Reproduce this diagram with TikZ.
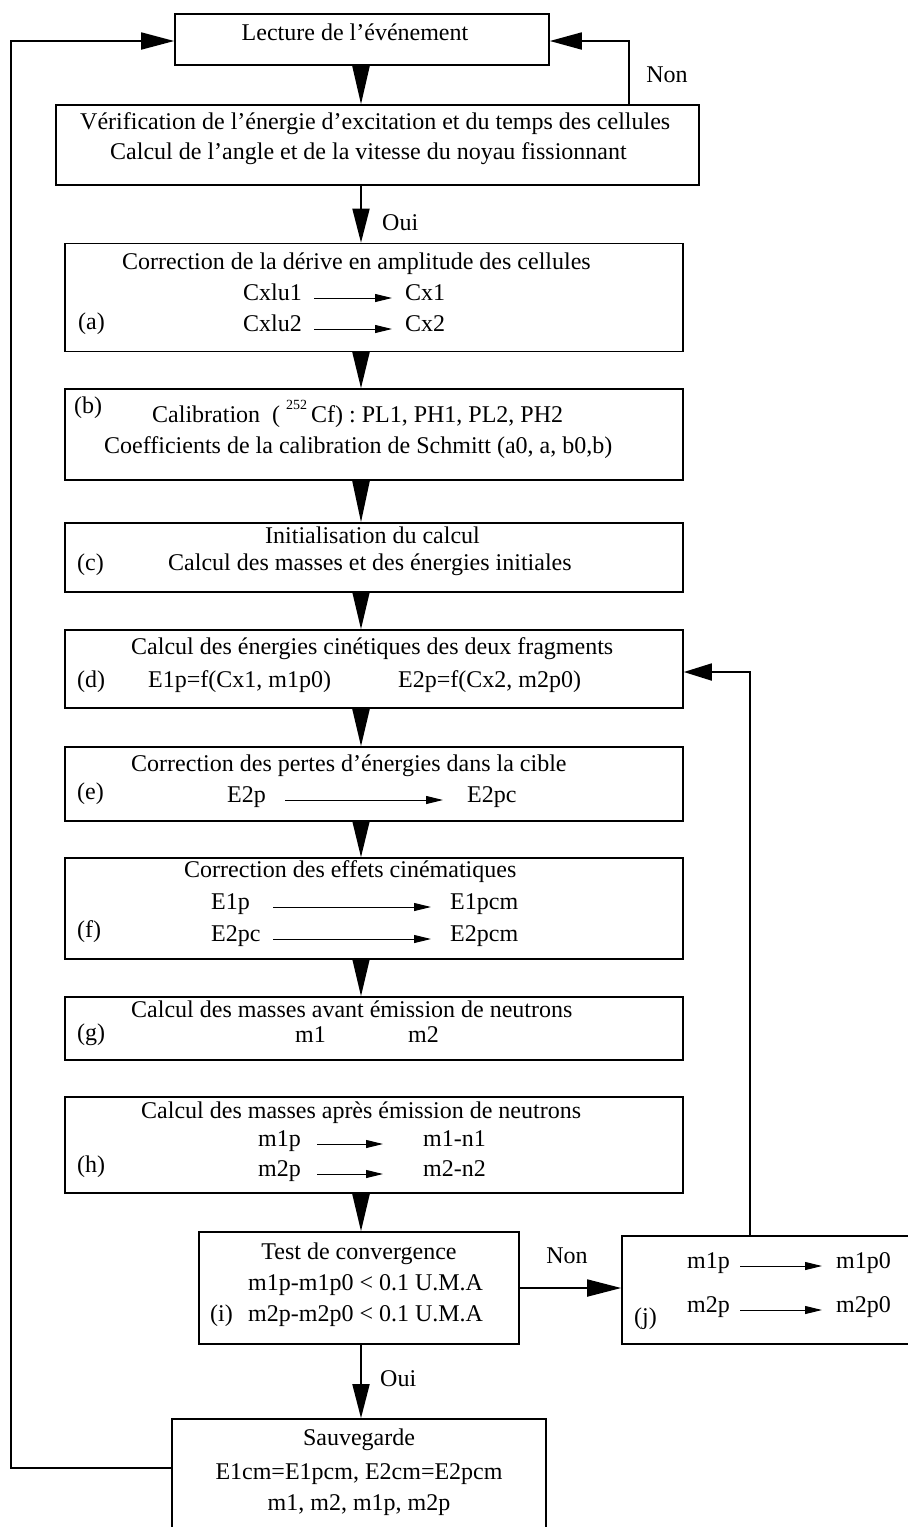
\documentclass[tikz,border=0pt]{standalone}
\usepackage{fontspec}
\setmainfont{Liberation Serif}
\usetikzlibrary{arrows.meta}
\begin{document}
\begin{tikzpicture}[x=1pt,y=-1pt,
  box/.style={draw, line width=1.6pt, rectangle, inner sep=0pt},
  txt/.style={inner sep=0pt, font=\fontsize{24}{30}\selectfont},
  flow/.style={line width=1.8pt, -{Triangle[length=#1,width=17pt]}},
  tiny/.style={line width=0.9pt, -{Triangle[length=17pt,width=8pt]}},
  link/.style={line width=1.8pt}]
\clip (0,0) rectangle (908,1527);
% boxes
\node[box, minimum width=374pt, minimum height=51pt] (lec) at (362,39.5) {};
\node[box, minimum width=643pt, minimum height=80pt] (ver) at (377.5,145) {};
\node[box, minimum width=618pt, minimum height=108pt] (a) at (374,297.5) {};
\node[box, minimum width=618pt, minimum height=91pt] (b) at (374,434.5) {};
\node[box, minimum width=618pt, minimum height=69pt] (c) at (374,557.5) {};
\node[box, minimum width=618pt, minimum height=78pt] (d) at (374,669) {};
\node[box, minimum width=618pt, minimum height=74pt] (e) at (374,784) {};
\node[box, minimum width=618pt, minimum height=101pt] (f) at (374,908.5) {};
\node[box, minimum width=618pt, minimum height=63pt] (g) at (374,1028.5) {};
\node[box, minimum width=618pt, minimum height=96pt] (h) at (374,1145) {};
\node[box, minimum width=320pt, minimum height=112pt] (i) at (359,1288) {};
\node[box, minimum width=300pt, minimum height=108pt] (j) at (772,1290) {};
\node[box, minimum width=374pt, minimum height=130pt] (sv) at (359,1484) {};
% texts
\node[txt, anchor=mid] (tlec) at (355,38) {Lecture de l’événement};
\node[txt, anchor=mid west] (tver1) at (80,127) {Vérification de l’énergie d’excitation et du temps des cellules};
\node[txt, anchor=mid west] (tver2) at (110,157) {Calcul de l’angle et de la vitesse du noyau fissionnant};
\node[txt, anchor=mid] (tnon1) at (667,80) {Non};
\node[txt, anchor=mid west] (toui1) at (382,228) {Oui};
% a
\node[txt, anchor=mid west] (ta1) at (122,267) {Correction de la dérive en amplitude des cellules};
\node[txt, anchor=mid west] (ta2) at (243,298) {Cxlu1};
\node[txt, anchor=mid west] (ta3) at (405,298) {Cx1};
\node[txt, anchor=mid west] (ta4) at (243,329) {Cxlu2};
\node[txt, anchor=mid west] (ta5) at (405,329) {Cx2};
\node[txt, anchor=mid west] (la) at (78,327) {(a)};
% b
\node[txt, anchor=mid west] (lb) at (74,411) {(b)};
\node[txt, anchor=mid west] (tb1) at (152,420) {Calibration~~(~\raisebox{0.55em}{\fontsize{14}{14}\selectfont 252}\,Cf)~:~PL1, PH1, PL2, PH2};
\node[txt, anchor=mid west] (tb2) at (104,451) {Coefficients de la calibration de Schmitt (a0, a, b0,b)};
% c
\node[txt, anchor=mid west] (tc1) at (265,541) {Initialisation du calcul};
\node[txt, anchor=mid west] (lc) at (77,568) {(c)};
\node[txt, anchor=mid west] (tc2) at (168,568) {Calcul des masses et des énergies initiales};
% d
\node[txt, anchor=mid west] (td1) at (131,652) {Calcul des énergies cinétiques des deux fragments};
\node[txt, anchor=mid west] (ld) at (77,685) {(d)};
\node[txt, anchor=mid west] (td2) at (148,685) {E1p=f(Cx1, m1p0)};
\node[txt, anchor=mid west] (td3) at (398,685) {E2p=f(Cx2, m2p0)};
% e
\node[txt, anchor=mid west] (te1) at (131,769) {Correction des pertes d’énergies dans la cible};
\node[txt, anchor=mid west] (le) at (77,797) {(e)};
\node[txt, anchor=mid west] (te2) at (227,800) {E2p};
\node[txt, anchor=mid west] (te3) at (467,800) {E2pc};
% f
\node[txt, anchor=mid west] (tf1) at (184,875) {Correction des effets cinématiques};
\node[txt, anchor=mid west] (tf2) at (211,907) {E1p};
\node[txt, anchor=mid west] (tf3) at (450,907) {E1pcm};
\node[txt, anchor=mid west] (lf) at (77,935) {(f)};
\node[txt, anchor=mid west] (tf4) at (211,939) {E2pc};
\node[txt, anchor=mid west] (tf5) at (450,939) {E2pcm};
% g
\node[txt, anchor=mid west] (tg1) at (131,1015) {Calcul des masses avant émission de neutrons};
\node[txt, anchor=mid west] (lg) at (77,1038) {(g)};
\node[txt, anchor=mid west] (tg2) at (295,1040) {m1};
\node[txt, anchor=mid west] (tg3) at (408,1040) {m2};
% h
\node[txt, anchor=mid west] (th1) at (141,1116) {Calcul des masses après émission de neutrons};
\node[txt, anchor=mid west] (th2) at (258,1144) {m1p};
\node[txt, anchor=mid west] (th3) at (423,1144) {m1-n1};
\node[txt, anchor=mid west] (lh) at (77,1170) {(h)};
\node[txt, anchor=mid west] (th4) at (258,1174) {m2p};
\node[txt, anchor=mid west] (th5) at (423,1174) {m2-n2};
% i
\node[txt, anchor=mid] (ti1) at (359,1257) {Test de convergence};
\node[txt, anchor=mid west] (ti2) at (248,1288) {m1p-m1p0 < 0.1 U.M.A};
\node[txt, anchor=mid west] (li) at (210,1319) {(i)};
\node[txt, anchor=mid west] (ti3) at (248,1319) {m2p-m2p0 < 0.1 U.M.A};
\node[txt, anchor=mid] (tnon2) at (567,1261) {Non};
% j
\node[txt, anchor=mid west] (tj1) at (687,1266) {m1p};
\node[txt, anchor=mid west] (tj2) at (836,1266) {m1p0};
\node[txt, anchor=mid west] (tj3) at (687,1310) {m2p};
\node[txt, anchor=mid west] (tj4) at (836,1310) {m2p0};
\node[txt, anchor=mid west] (lj) at (634,1322) {(j)};
\node[txt, anchor=mid west] (toui2) at (380,1384) {Oui};
% save
\node[txt, anchor=mid] (ts1) at (359,1443) {Sauvegarde};
\node[txt, anchor=mid] (ts2) at (359,1477) {E1cm=E1pcm, E2cm=E2pcm};
\node[txt, anchor=mid] (ts3) at (359,1508) {m1, m2, m1p, m2p};
% inner small arrows
\draw[tiny] (314,298) -- (392,298);
\draw[tiny] (314,329) -- (392,329);
\draw[tiny] (285,800) -- (443,800);
\draw[tiny] (273,907) -- (431,907);
\draw[tiny] (273,939) -- (431,939);
\draw[tiny] (317,1144) -- (383,1144);
\draw[tiny] (317,1174) -- (383,1174);
\draw[tiny] (740,1266) -- (822,1266);
\draw[tiny] (740,1310) -- (822,1310);
% main flow
\coordinate (ax) at (361,0);
\draw[flow=38pt] (lec.south -| ax) -- (ver.north -| ax);
\draw[flow=34pt] (ver.south -| ax) -- (a.north -| ax);
\draw[flow=36pt] (a.south -| ax) -- (b.north -| ax);
\draw[flow=41pt] (b.south -| ax) -- (c.north -| ax);
\draw[flow=37pt] (c.south -| ax) -- (d.north -| ax);
\draw[flow=37pt] (d.south -| ax) -- (e.north -| ax);
\draw[flow=36pt] (e.south -| ax) -- (f.north -| ax);
\draw[flow=37pt] (f.south -| ax) -- (g.north -| ax);
\draw[flow=37pt] (h.south -| ax) -- (i.north -| ax);
\draw[flow=34pt] (i.south -| ax) -- (sv.north -| ax);
\draw[flow=34pt] (i.east) -- (j.west |- i.east);
% loops
\coordinate (n1) at (629,41);
\draw[flow=32pt] (ver.north -| n1) -- (n1) -- (lec.east |- n1);
\coordinate (j1) at (750,672);
\draw[flow=28pt] (j.north -| j1) -- (j1) -- (d.east |- j1);
\coordinate (l1) at (11,1468);
\coordinate (l2) at (11,41);
\draw[flow=33pt] (sv.west |- l1) -- (l1) -- (l2) -- (lec.west |- l2);
\end{tikzpicture}
\end{document}
